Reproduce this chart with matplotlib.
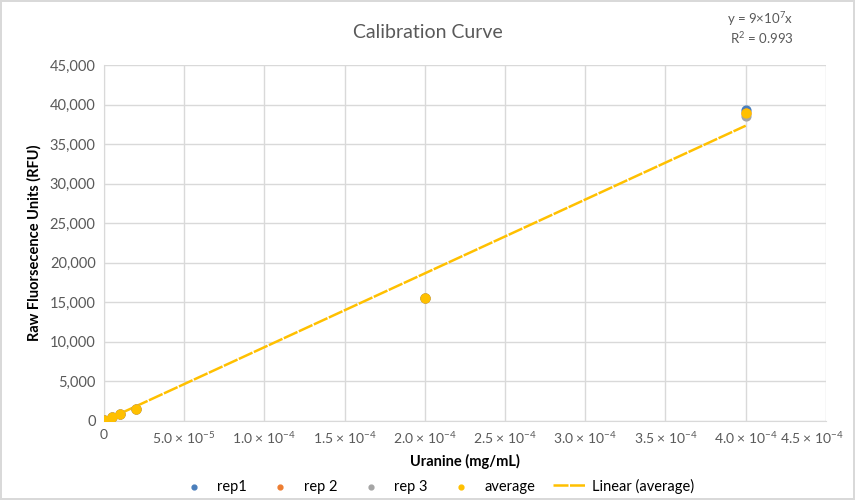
import matplotlib
matplotlib.use("Agg")
import matplotlib.pyplot as plt
import matplotlib.transforms as mtransforms
from matplotlib.ticker import FuncFormatter, MultipleLocator
import numpy as np

# ---------------- data ----------------
conc = [0, 5e-6, 1e-5, 2e-5, 2e-4, 4e-4]
rep1 = [100, 520, 920, 1550, 15600, 39300]
rep2 = [100, 500, 900, 1520, 15550, 38900]
rep3 = [100, 490, 880, 1500, 15500, 38600]
average = [100, 500, 900, 1520, 15550, 38900]

blue, orange, grey, gold = "#4A7EBB", "#ED7D31", "#A5A5A5", "#FFC000"

plt.rcParams['font.family'] = ['Lato', 'DejaVu Sans']
plt.rcParams['mathtext.fontset'] = 'custom'
plt.rcParams['mathtext.rm'] = 'Lato'

fig = plt.figure(figsize=(8.55, 5.0), dpi=100)
fig.patch.set_edgecolor("#D9D9D9")
fig.patch.set_linewidth(1.5)
ax = fig.add_axes([0.1216, 0.158, 0.8444, 0.712])

x = np.array(conc)
ya = np.array(average)
slope = np.sum(x * ya) / np.sum(x * x)  # linear fit through origin
r2 = 1 - np.sum((ya - slope * x) ** 2) / np.sum(ya ** 2)  # excel style, zero intercept

ax.scatter(conc, rep1, s=40, color=blue, zorder=3, label="rep1")
ax.scatter(conc, rep2, s=40, color=orange, zorder=3, label="rep 2")
ax.scatter(conc, rep3, s=40, color=grey, zorder=3, label="rep 3")
ax.scatter(conc, average, s=40, color=gold, zorder=4, label="average")
ax.plot([x.min(), x.max()], [slope * x.min(), slope * x.max()], color=gold,
        lw=1.8, ls=(0, (6, 0.6)), zorder=2, label="Linear (average)")

xmax = 4.5e-4
ax.set_xlim(0, xmax)
ax.set_ylim(0, 45000)
ax.xaxis.set_major_locator(MultipleLocator(5e-5))
ax.yaxis.set_major_locator(MultipleLocator(5000))


def sci(v):
    if v < 1e-12:
        return "0"
    e = int(np.floor(np.log10(v) + 1e-9))
    m = v / 10 ** e
    return r"%.1f $\times$ 10$^{%d}$" % (m, e)


def xfmt(v, pos):
    # last label drawn by hand below so it stays inside the frame
    if v > xmax * 0.999:
        return ""
    return sci(v)


ax.xaxis.set_major_formatter(FuncFormatter(xfmt))
ax.yaxis.set_major_formatter(FuncFormatter(lambda v, p: f"{int(v):,}"))
ax.tick_params(axis="x", length=0, labelsize=10, colors="#595959", pad=6)
ax.tick_params(axis="y", length=0, labelsize=10.5, colors="#595959", pad=6)
ax.grid(True, color="#D9D9D9", lw=1)
ax.set_axisbelow(True)
for s in ["top", "right"]:
    ax.spines[s].set_visible(False)
for s in ["left", "bottom"]:
    ax.spines[s].set_color("#D9D9D9")

trans = ax.get_xaxis_transform() + mtransforms.ScaledTranslation(0.18, -0.083, fig.dpi_scale_trans)
ax.text(xmax, 0, sci(xmax), transform=trans, ha="right", va="top", fontsize=10, color="#595959")

ax.set_xlabel("Uranine (mg/mL)", fontsize=10.5, fontweight="bold", labelpad=6)
ax.set_ylabel("Raw Fluorsecence Units (RFU)", fontsize=10.5, fontweight="bold", labelpad=6)
fig.text(0.5, 0.934, "Calibration Curve", ha="center", va="center", fontsize=14, color="#595959")
fig.text(0.889, 0.962, r"y = 9$\times$10$^{7}$x", ha="center", va="center", fontsize=9.5, color="#595959")
fig.text(0.891, 0.924, "R$^{2}$ = %.3f" % r2, ha="center", va="center", fontsize=9.5, color="#595959")

fig.legend(loc="center", bbox_to_anchor=(0.51, 0.028), ncol=5, frameon=False, fontsize=10.5,
           handlelength=2.2, columnspacing=1.2, handletextpad=0.5, markerscale=0.55)

fig.savefig("out.png", dpi=100)
